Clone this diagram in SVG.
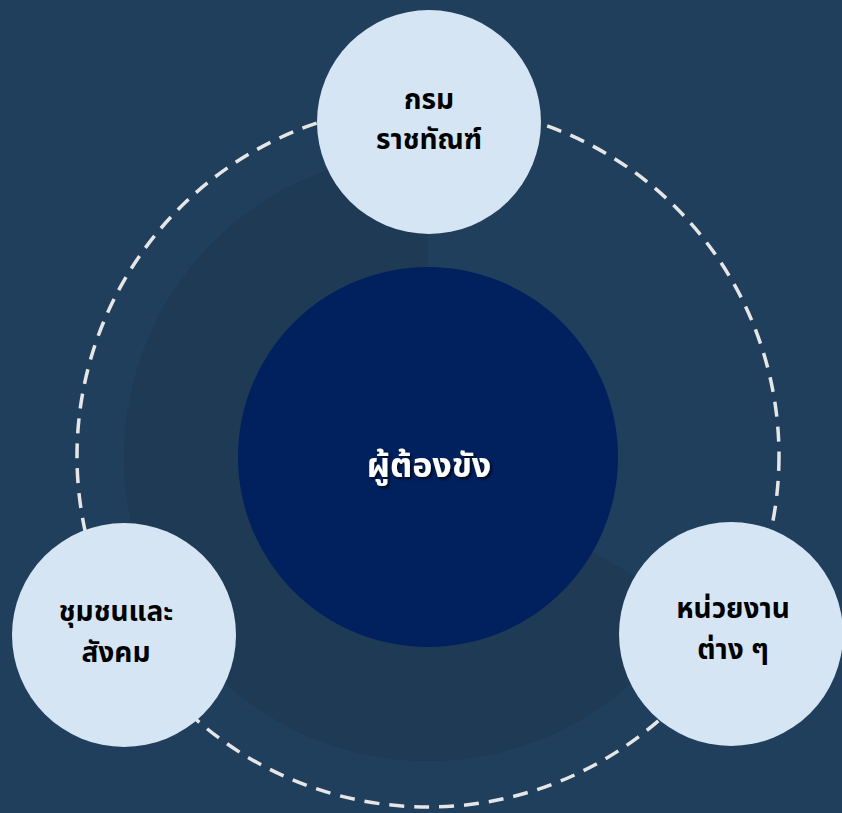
<svg xmlns="http://www.w3.org/2000/svg" width="842" height="813" viewBox="0 0 842 813">
<defs>
<style>
.sat{fill:#d6e5f3;}
.lbl{font-family:"Noto Sans Thai","Noto Sans","DejaVu Sans",sans-serif;font-weight:bold;font-size:28px;fill:#000;text-anchor:middle;}
.ctr{font-family:"Noto Sans Thai","Noto Sans","DejaVu Sans",sans-serif;font-weight:bold;font-size:34px;fill:#fff;text-anchor:middle;}
</style>
<filter id="sh" x="-20%" y="-40%" width="140%" height="180%">
<feDropShadow dx="2" dy="2" stdDeviation="1.5" flood-color="#000" flood-opacity="0.7"/>
</filter>
</defs>
<rect width="842" height="813" fill="#1f3f5c"/>
<g id="backdrop">
<path d="M428,457 L428,153 A304,304 0 1,0 691.3,609 Z" fill="#1e3a55"/>
</g>
<g id="connectors">
<circle cx="428" cy="456" r="351" fill="none" stroke="#e6e6e6" stroke-width="3.5" stroke-dasharray="15 10"/>
</g>
<g id="center">
<circle cx="428" cy="457" r="190" fill="#00205e"/>
<text class="ctr" x="429" y="477" filter="url(#sh)">ผู้ต้องขัง</text>
</g>
<g id="top">
<circle class="sat" cx="429" cy="122" r="112"/>
<text class="lbl" x="429" y="109">กรม</text>
<text class="lbl" x="429" y="149">ราชทัณฑ์</text>
</g>
<g id="left">
<circle class="sat" cx="124" cy="635" r="112"/>
<text class="lbl" x="116" y="621">ชุมชนและ</text>
<text class="lbl" x="116" y="662">สังคม</text>
</g>
<g id="right">
<circle class="sat" cx="731" cy="634" r="112"/>
<text class="lbl" x="733" y="618">หน่วยงาน</text>
<text class="lbl" x="733" y="659">ต่าง ๆ</text>
</g>
</svg>
